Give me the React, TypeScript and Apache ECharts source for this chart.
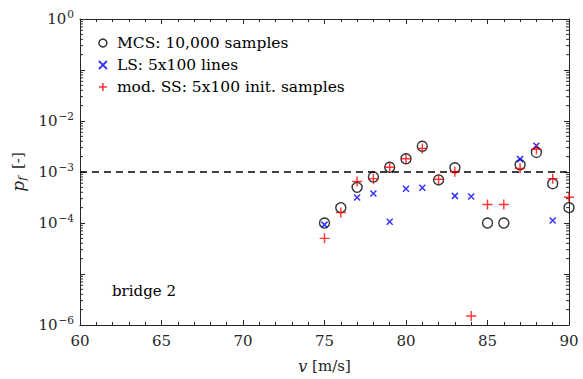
import React, { useEffect, useRef } from "react";
import * as echarts from "echarts";

const speeds = [75, 76, 77, 78, 79, 80, 81, 82, 83, 84, 85, 86, 87, 88, 89, 90];
const mcs: (number | null)[] = [1e-4, 2.0e-4, 5.0e-4, 8.0e-4, 1.24e-3, 1.82e-3, 3.2e-3, 7.0e-4, 1.21e-3, null, 1e-4, 1e-4, 1.39e-3, 2.42e-3, 5.9e-4, 2.0e-4];
const ls: (number | null)[] = [9.3e-5, null, 3.15e-4, 3.8e-4, 1.06e-4, 4.7e-4, 4.9e-4, null, 3.4e-4, 3.3e-4, null, null, 1.79e-3, 3.27e-3, 1.12e-4, null];
const ss: (number | null)[] = [5.0e-5, 1.6e-4, 6.5e-4, 7.4e-4, 1.24e-3, 1.82e-3, 2.9e-3, 7.2e-4, 1.01e-3, 1.5e-6, 2.3e-4, 2.3e-4, 1.18e-3, 2.8e-3, 7.4e-4, 3.2e-4];
const threshold = 1e-3;
const xRange = [60, 90];
const yRange = [1e-6, 1];
const yLabelExps = [0, -2, -3, -4, -6];
const seriesNames = ["MCS: 10,000 samples", "LS: 5x100 lines", "mod. SS: 5x100 init. samples"];
const caption = "bridge 2";

const FONT = "DejaVu Serif";
const AX = "#262626";
const X_PATH = "path://M0,0L10,10M10,0L0,10";
const PLUS_PATH = "path://M5,0L5,10M0,5L10,5";

function pairs(vals: (number | null)[]) {
  const out: number[][] = [];
  speeds.forEach((s, i) => {
    const v = vals[i];
    if (v != null) out.push([s, v]);
  });
  return out;
}

const minorY: number[] = [];
for (let k = -6; k < 0; k++) for (let m = 2; m <= 9; m++) minorY.push(m * Math.pow(10, k));

export default function App() {
  const ref = useRef<HTMLDivElement>(null);
  useEffect(() => {
    if (!ref.current) return;
    const chart = echarts.init(ref.current, null, { renderer: "svg" });
    const sup = "\u2212";
    const option: any = {
      animation: false,
      backgroundColor: "#fff",
      textStyle: { fontFamily: FONT },
      grid: { left: 80, right: 14, top: 19, bottom: 53 },
      legend: {
        left: 93,
        top: 29,
        orient: "vertical",
        itemGap: 4,
        itemWidth: 10,
        itemHeight: 8,
        data: [
          { name: seriesNames[0], itemStyle: { borderWidth: 1.5 } },
          { name: seriesNames[1], itemStyle: { borderWidth: 1.8 } },
          { name: seriesNames[2], itemStyle: { borderWidth: 1.5 } },
        ],
        textStyle: { fontFamily: FONT, fontSize: 15.5, color: "#000", padding: [0, 0, 0, 4], lineHeight: 18 },
      },
      xAxis: [
        {
          type: "value",
          min: xRange[0],
          max: xRange[1],
          interval: 5,
          position: "bottom",
          axisLine: { lineStyle: { color: AX, width: 1 } },
          axisTick: { inside: true, length: 5, lineStyle: { color: AX } },
          minorTick: { show: true, splitNumber: 5, length: 3, lineStyle: { color: AX } },
          splitLine: { show: false },
          axisLabel: { fontFamily: FONT, fontSize: 15, color: AX, margin: 8 },
          name: "{i|v} [m/s]",
          nameLocation: "middle",
          nameGap: 33,
          nameTextStyle: {
            fontFamily: FONT,
            fontSize: 15,
            color: AX,
            rich: { i: { fontFamily: FONT, fontStyle: "italic", fontSize: 16, color: AX } },
          },
        },
        {
          type: "value",
          min: xRange[0],
          max: xRange[1],
          interval: 5,
          position: "top",
          axisLine: { lineStyle: { color: AX, width: 1 } },
          axisTick: { inside: true, length: 5, lineStyle: { color: AX } },
          minorTick: { show: true, splitNumber: 5, length: 3, lineStyle: { color: AX } },
          splitLine: { show: false },
          axisLabel: { show: false },
        },
      ],
      yAxis: [
        {
          type: "log",
          logBase: 10,
          min: yRange[0],
          max: yRange[1],
          position: "left",
          axisLine: { show: true, lineStyle: { color: AX, width: 1 } },
          axisTick: { show: true, inside: true, length: 5, lineStyle: { color: AX } },
          splitLine: { show: false },
          axisLabel: {
            margin: 6,
            color: AX,
            formatter: (v: number) => {
              const e = Math.round(Math.log10(v));
              if (!yLabelExps.includes(e)) return "";
              return "{b|10}{s|" + (e < 0 ? sup + Math.abs(e) : String(e)) + "}";
            },
            rich: {
              b: { fontFamily: FONT, fontSize: 15, color: AX },
              s: { fontFamily: FONT, fontSize: 10.5, color: AX, padding: [0, 0, 10, 1] },
            },
          },
          name: "{i|p}{f|f} [-]",
          nameLocation: "middle",
          nameGap: 40,
          nameTextStyle: {
            fontFamily: FONT,
            fontSize: 15,
            color: AX,
            rich: {
              i: { fontFamily: FONT, fontStyle: "italic", fontSize: 17, color: AX },
              f: { fontFamily: FONT, fontStyle: "italic", fontSize: 11, color: AX, padding: [8, 3, 0, 0] },
            },
          },
        },
        {
          type: "log",
          logBase: 10,
          min: yRange[0],
          max: yRange[1],
          position: "right",
          axisLine: { show: true, lineStyle: { color: AX, width: 1 } },
          axisTick: { show: true, inside: true, length: 5, lineStyle: { color: AX } },
          splitLine: { show: false },
          axisLabel: { show: false },
        },
      ],
      graphic: [
        {
          type: "text",
          left: 112,
          top: 283,
          style: { text: caption, font: `15px '${FONT}'`, fill: "#000" },
        },
      ],
      series: [
        {
          name: "minorTicks",
          type: "custom",
          silent: true,
          data: minorY.map((v) => [xRange[0], v]),
          renderItem: (params: any, api: any) => {
            const p = api.coord([xRange[0], api.value(1)]);
            const cs = params.coordSys;
            const st = { stroke: AX, lineWidth: 1 };
            return {
              type: "group",
              children: [
                { type: "line", shape: { x1: cs.x, y1: p[1], x2: cs.x + 3, y2: p[1] }, style: st },
                { type: "line", shape: { x1: cs.x + cs.width, y1: p[1], x2: cs.x + cs.width - 3, y2: p[1] }, style: st },
              ],
            };
          },
        },
        {
          name: "threshold",
          type: "line",
          data: [[xRange[0], threshold], [xRange[1], threshold]],
          symbol: "none",
          lineStyle: { color: "#000", width: 1.6, type: [7, 5] },
          silent: true,
        },
        {
          name: seriesNames[0],
          type: "scatter",
          data: pairs(mcs),
          symbol: "circle",
          symbolSize: 10,
          itemStyle: { color: "rgba(0,0,0,0)", borderColor: "#000", borderWidth: 1.4 },
          z: 3,
        },
        {
          name: seriesNames[1],
          type: "scatter",
          data: pairs(ls),
          symbol: X_PATH,
          symbolSize: 6,
          itemStyle: { color: "rgba(0,0,0,0)", borderColor: "#0000ff", borderWidth: 1.5 },
          z: 4,
        },
        {
          name: seriesNames[2],
          type: "scatter",
          data: pairs(ss),
          symbol: PLUS_PATH,
          symbolSize: 10,
          itemStyle: { color: "rgba(0,0,0,0)", borderColor: "#ff0000", borderWidth: 1.4 },
          z: 5,
        },
      ],
    };
    chart.setOption(option);
    return () => chart.dispose();
  }, []);
  return <div ref={ref} style={{ width: 583, height: 379, position: "absolute", left: 0, top: 0 }} />;
}
